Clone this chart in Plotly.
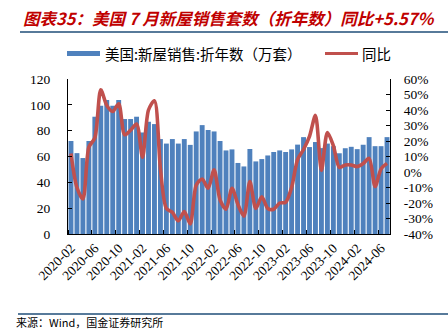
import plotly.graph_objects as go

months = [
    "2020-02", "2020-03", "2020-04", "2020-05", "2020-06", "2020-07", "2020-08", "2020-09", "2020-10", "2020-11", "2020-12",
    "2021-01", "2021-02", "2021-03", "2021-04", "2021-05", "2021-06", "2021-07", "2021-08", "2021-09", "2021-10", "2021-11", "2021-12",
    "2022-01", "2022-02", "2022-03", "2022-04", "2022-05", "2022-06", "2022-07", "2022-08", "2022-09", "2022-10", "2022-11", "2022-12",
    "2023-01", "2023-02", "2023-03", "2023-04", "2023-05", "2023-06", "2023-07", "2023-08", "2023-09", "2023-10", "2023-11", "2023-12",
    "2024-01", "2024-02", "2024-03", "2024-04", "2024-05", "2024-06", "2024-07",
]

sales = [72, 62.6, 58.8, 72, 90.8, 99.3, 103.7, 99.3, 103.7, 89, 89,
         90.8, 78.6, 86.9, 85.1, 73.5, 70, 73.5, 70, 73.5, 69, 79.4, 84.3,
         80.5, 79.4, 72, 64.7, 65.5, 55, 52.3, 65.8, 56.2, 58, 60.8, 63.5,
         64.7, 63.5, 65.5, 69.2, 75, 67.3, 71.2, 66.5, 70, 68, 62.5, 66.4,
         67.5, 65.7, 69.1, 75, 68, 68, 75]

yoy = [12, -10, -17.4, 16, 22, 53, 43, 39, 44, 24, 27,
       31, 9.5, 40, 46, 2, -23.5, -26, -31.5, -25.5, -33.5, -8.5, -4.5,
       -10.5, 1.5, -18, -24, -10.5, -21, -28.5, -6.2, -23.5, -16, -23.5, -24,
       -20, -19.5, -10, 8, 14.5, 23, 36.5, 1, 25.5, 17, 3, 4.5,
       4.5, 3.5, 5.5, 8.8, -9.4, 2, 5.57]

x_tick_labels = ["2020-02", "2020-06", "2020-10", "2021-02", "2021-06", "2021-10", "2022-02",
                 "2022-06", "2022-10", "2023-02", "2023-06", "2023-10", "2024-02", "2024-06"]
left_ticks = [0, 20, 40, 60, 80, 100, 120]
right_ticks = [-40, -30, -20, -10, 0, 10, 20, 30, 40, 50, 60]
right_tick_text = ["-40%", "-30%", "-20%", "-10%", "0%", "10%", "20%", "30%", "40%", "50%", "60%"]

title_text = "图表35：美国 7 月新屋销售套数（折年数）同比+5.57%"
bar_name = "美国:新屋销售:折年数（万套）"
line_name = "同比"
source_text = "来源：Wind，国金证券研究所"

W, H = 448, 332
L, R, T, B = 68, 390, 79, 234


def px(x):
    return (x - L) / (R - L)


def py(y):
    return (B - y) / (B - T)


x_idx = list(range(len(months)))
tickvals = [months.index(m) for m in x_tick_labels]

fig = go.Figure()
fig.add_trace(go.Bar(x=x_idx, y=sales, name=bar_name, marker=dict(color="#4F81BD", line=dict(width=0)),
                     yaxis="y"))
fig.add_trace(go.Scatter(x=x_idx, y=yoy, name=line_name, mode="lines", yaxis="y2",
                         line=dict(color="#C0504D", width=3.6, shape="spline", smoothing=0.8)))

tickfont = dict(family="Liberation Serif, Times New Roman, serif", size=13.5, color="#000000")

fig.update_layout(
    width=W, height=H,
    margin=dict(l=L, r=W - R, t=T, b=H - B, pad=0),
    plot_bgcolor="white", paper_bgcolor="white",
    showlegend=False, bargap=0.18,
    xaxis=dict(range=[-0.5, len(months) - 0.5], tickmode="array", tickvals=tickvals, ticktext=x_tick_labels,
               tickangle=-45, ticks="", showline=True, linecolor="#000000", linewidth=1,
               showgrid=False, zeroline=False, tickfont=tickfont,
               minor=dict(tickvals=[v - 0.5 for v in tickvals] + [len(months) - 0.5], ticks="inside",
                          ticklen=4, tickcolor="#000000", showgrid=False)),
    yaxis=dict(range=[0, 120], tickmode="array", tickvals=left_ticks, ticks="inside", ticklen=4,
               tickcolor="#000000", showline=True, linecolor="#000000", linewidth=1, showgrid=False,
               zeroline=False, tickfont=tickfont, ticklabelstandoff=14),
    yaxis2=dict(range=[-40, 60], overlaying="y", side="right", tickmode="array", tickvals=right_ticks,
                ticktext=right_tick_text, ticks="inside", ticklen=4, tickcolor="#000000",
                showline=True, linecolor="#000000", linewidth=1, showgrid=False, zeroline=False,
                tickfont=tickfont, ticklabelstandoff=10),
)

# header / footer rules
fig.add_shape(type="line", xref="paper", yref="paper", x0=px(20), x1=px(448), y0=py(32), y1=py(32),
              line=dict(color="#1F4E79", width=1.5))
fig.add_shape(type="line", xref="paper", yref="paper", x0=px(18), x1=px(448), y0=py(314), y1=py(314),
              line=dict(color="#1F4E79", width=1.5))

# title
fig.add_annotation(xref="paper", yref="paper", x=px(21), y=py(18), xanchor="left", yanchor="middle",
                   text="<b><i>" + title_text + "</i></b>", showarrow=False,
                   font=dict(family="Noto Sans CJK SC", size=16.5, color="#C00000"))

# legend
fig.add_shape(type="rect", xref="paper", yref="paper", x0=px(67), x1=px(100), y0=py(56), y1=py(51),
              fillcolor="#4F81BD", line=dict(width=0))
fig.add_annotation(xref="paper", yref="paper", x=px(103), y=py(53.5), xanchor="left", yanchor="middle",
                   text=bar_name, showarrow=False,
                   font=dict(family="Noto Sans CJK SC", size=14.5, color="#000000"))
fig.add_shape(type="line", xref="paper", yref="paper", x0=px(325), x1=px(358), y0=py(53.5), y1=py(53.5),
              line=dict(color="#C0504D", width=3))
fig.add_annotation(xref="paper", yref="paper", x=px(360), y=py(53.5), xanchor="left", yanchor="middle",
                   text=line_name, showarrow=False,
                   font=dict(family="Noto Sans CJK SC", size=14.5, color="#000000"))

# source
fig.add_annotation(xref="paper", yref="paper", x=px(15), y=py(331), xanchor="left", yanchor="bottom",
                   text=source_text, showarrow=False, borderpad=0,
                   font=dict(family="Noto Sans CJK SC", size=11, color="#000000"))

fig.write_html("out.html")
